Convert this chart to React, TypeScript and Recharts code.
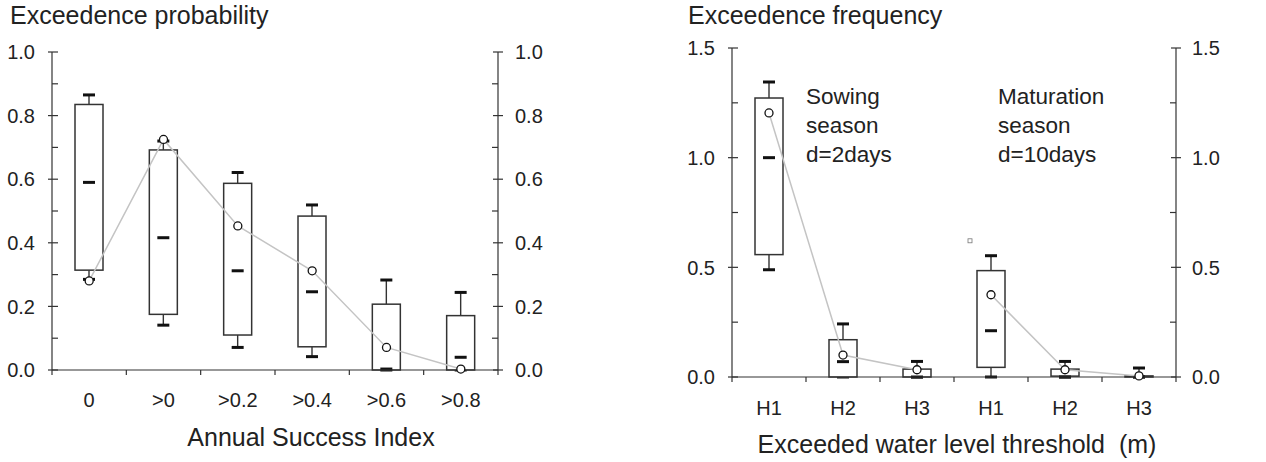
import React from 'react';
import { ComposedChart, Bar, Line, XAxis, YAxis } from 'recharts';

const FONT = '"Liberation Sans", Arial, Helvetica, sans-serif';
const INK = '#222';
const AXIS = '#333';
const MEAN_LINE = '#c4c4c4';

// left panel: exceedence probability by annual success index
const successCats = ['0', '>0', '>0.2', '>0.4', '>0.6', '>0.8'];
const probHi = [0.865, 0.72, 0.621, 0.519, 0.283, 0.244];
const probQ3 = [0.835, 0.692, 0.587, 0.484, 0.207, 0.171];
const probMed = [0.59, 0.416, 0.312, 0.246, 0.003, 0.04];
const probQ1 = [0.314, 0.175, 0.11, 0.073, 0, 0];
const probLo = [0.285, 0.141, 0.071, 0.042, 0, 0];
const probMean = [0.28, 0.725, 0.453, 0.312, 0.071, 0.003];
const probTicks = [0, 0.1, 0.2, 0.3, 0.4, 0.5, 0.6, 0.7, 0.8, 0.9, 1.0];
const probMajor = [0, 0.2, 0.4, 0.6, 0.8, 1.0];

// right panel: exceedence frequency by water level threshold
const thresholdCats = ['H1', 'H2', 'H3', 'H1', 'H2', 'H3'];
const seasonOf = ['sow', 'sow', 'sow', 'mat', 'mat', 'mat'];
const freqHi = [1.345, 0.242, 0.071, 0.553, 0.071, 0.041];
const freqQ3 = [1.272, 0.17, 0.036, 0.485, 0.036, 0.005];
const freqMed = [1.0, 0.07, 0, 0.211, 0, 0];
const freqQ1 = [0.558, 0, 0, 0.044, 0.004, 0];
const freqLo = [0.489, 0, 0, 0, 0, 0];
const freqMean = [1.204, 0.1, 0.033, 0.375, 0.033, 0.005];
const freqOutlier = [null, null, null, 0.621, null, null];
const freqTicks = [0, 0.25, 0.5, 0.75, 1.0, 1.25, 1.5];
const freqMajor = [0, 0.5, 1.0, 1.5];

const leftData = successCats.map((c, i) => ({
  key: c,
  hi: probHi[i],
  q3: probQ3[i],
  med: probMed[i],
  q1: probQ1[i],
  lo: probLo[i],
  mean: probMean[i],
}));

const rightData = thresholdCats.map((c, i) => ({
  key: `${c}-${i}`,
  hi: freqHi[i],
  q3: freqQ3[i],
  med: freqMed[i],
  q1: freqQ1[i],
  lo: freqLo[i],
  outlier: freqOutlier[i],
  meanSow: seasonOf[i] === 'sow' ? freqMean[i] : null,
  meanMat: seasonOf[i] === 'mat' ? freqMean[i] : null,
}));

// bar value is the upper whisker, so the bar's own geometry gives the y scale
const BoxShape = (props: any) => {
  const { x, y, width, height, payload } = props;
  if (!payload || !payload.hi) return null;
  const ppu = height / payload.hi;
  const base = y + height;
  const py = (v: number) => base - v * ppu;
  const cx = x + width / 2;
  const cap = 6;
  return (
    <g>
      <line x1={cx} x2={cx} y1={py(payload.q3)} y2={py(payload.hi)} stroke={AXIS} strokeWidth={1.4} />
      <line x1={cx - cap} x2={cx + cap} y1={py(payload.hi)} y2={py(payload.hi)} stroke="#111" strokeWidth={3} />
      <line x1={cx} x2={cx} y1={py(payload.q1)} y2={py(payload.lo)} stroke={AXIS} strokeWidth={1.4} />
      <line x1={cx - cap} x2={cx + cap} y1={py(payload.lo)} y2={py(payload.lo)} stroke="#111" strokeWidth={3} />
      <rect
        x={x}
        y={py(payload.q3)}
        width={width}
        height={Math.max(py(payload.q1) - py(payload.q3), 0.5)}
        fill="#fff"
        stroke={AXIS}
        strokeWidth={1.5}
      />
      <line x1={cx - cap} x2={cx + cap} y1={py(payload.med)} y2={py(payload.med)} stroke="#111" strokeWidth={3} />
      {payload.outlier != null && (
        <rect x={x - 9} y={py(payload.outlier) - 2} width={4} height={4} fill="#fff" stroke="#777" strokeWidth={0.8} />
      )}
    </g>
  );
};

const makeYTick = (side: 'left' | 'right', gap: number, major: number[]) => (props: any) => {
  const { x, y, payload } = props;
  const v = payload.value;
  const isMajor = major.some((m) => Math.abs(m - v) < 1e-6);
  const inward = side === 'left' ? 1 : -1;
  const out = side === 'left' ? 4 : 5;
  const x1 = isMajor ? x - inward * out : x;
  const x2 = x + inward * (isMajor && side === 'right' ? 5 : 6);
  return (
    <g>
      <line x1={x1} x2={x2} y1={y} y2={y} stroke={AXIS} strokeWidth={1.2} />
      {isMajor && (
        <text
          x={side === 'left' ? x - gap : x + gap}
          y={y}
          dy="0.36em"
          textAnchor={side === 'left' ? 'end' : 'start'}
          fontSize={20}
          fontFamily={FONT}
          fill={INK}
        >
          {v.toFixed(1)}
        </text>
      )}
    </g>
  );
};

const makeXTick = (labels: string[], margin: number) => (props: any) => {
  const { x, y, payload, index, visibleTicksCount, width } = props;
  const half = payload.offset || width / visibleTicksCount / 2;
  const last = index === visibleTicksCount - 1;
  return (
    <g>
      <line x1={x - half} x2={x - half} y1={y} y2={y + 5} stroke={AXIS} strokeWidth={1.2} />
      {last && <line x1={x + half} x2={x + half} y1={y} y2={y + 5} stroke={AXIS} strokeWidth={1.2} />}
      <text x={x} y={y + margin} dy="0.71em" textAnchor="middle" fontSize={20} fontFamily={FONT} fill={INK}>
        {labels[index]}
      </text>
    </g>
  );
};

const meanDot = { r: 4, fill: '#fff', stroke: '#111', strokeWidth: 1.3 };

const axisLine = { stroke: AXIS, strokeWidth: 1.2 };

export default function App() {
  return (
    <div style={{ fontFamily: FONT }}>
      <div style={{ position: 'absolute', left: 0, top: 0 }}>
        <ComposedChart width={620} height={462} data={leftData} margin={{ top: 52, right: 62, bottom: 52, left: 0 }}>
          <XAxis
            dataKey="key"
            height={40}
            interval={0}
            tickSize={0}
            tickMargin={0}
            tickLine={false}
            axisLine={axisLine}
            tick={makeXTick(successCats, 23)}
          />
          <YAxis
            yAxisId="l"
            width={52}
            domain={[0, 1]}
            ticks={probTicks}
            interval={0}
            tickSize={0}
            tickMargin={0}
            tickLine={false}
            axisLine={axisLine}
            tick={makeYTick('left', 17, probMajor)}
          />
          <YAxis
            yAxisId="r"
            orientation="right"
            width={60}
            domain={[0, 1]}
            ticks={probTicks}
            interval={0}
            tickSize={0}
            tickMargin={0}
            tickLine={false}
            axisLine={axisLine}
            tick={makeYTick('right', 17, probMajor)}
          />
          <Bar yAxisId="l" dataKey="hi" barSize={28} shape={BoxShape} isAnimationActive={false} />
          {/* invisible twin so the right axis has a series and draws its ticks */}
          <Line yAxisId="r" dataKey="hi" stroke="none" dot={false} activeDot={false} isAnimationActive={false} />
          <Line
            yAxisId="l"
            type="linear"
            dataKey="mean"
            stroke={MEAN_LINE}
            strokeWidth={1.5}
            dot={meanDot}
            activeDot={false}
            isAnimationActive={false}
          />
        </ComposedChart>
      </div>

      <div style={{ position: 'absolute', left: 620, top: 0 }}>
        <ComposedChart width={646} height={462} data={rightData} margin={{ top: 48, right: 30, bottom: 45, left: 52 }}>
          <XAxis
            dataKey="key"
            height={40}
            interval={0}
            tickSize={0}
            tickMargin={0}
            tickLine={false}
            axisLine={axisLine}
            tick={makeXTick(thresholdCats, 24)}
          />
          <YAxis
            yAxisId="l"
            width={60}
            domain={[0, 1.5]}
            ticks={freqTicks}
            interval={0}
            tickSize={0}
            tickMargin={0}
            tickLine={false}
            axisLine={axisLine}
            tick={makeYTick('left', 17, freqMajor)}
          />
          <YAxis
            yAxisId="r"
            orientation="right"
            width={60}
            domain={[0, 1.5]}
            ticks={freqTicks}
            interval={0}
            tickSize={0}
            tickMargin={0}
            tickLine={false}
            axisLine={axisLine}
            tick={makeYTick('right', 16, freqMajor)}
          />
          <Bar yAxisId="l" dataKey="hi" barSize={28} shape={BoxShape} isAnimationActive={false} />
          <Line yAxisId="r" dataKey="hi" stroke="none" dot={false} activeDot={false} isAnimationActive={false} />
          <Line
            yAxisId="l"
            type="linear"
            dataKey="meanSow"
            stroke={MEAN_LINE}
            strokeWidth={1.5}
            dot={meanDot}
            activeDot={false}
            isAnimationActive={false}
          />
          <Line
            yAxisId="l"
            type="linear"
            dataKey="meanMat"
            stroke={MEAN_LINE}
            strokeWidth={1.5}
            dot={meanDot}
            activeDot={false}
            isAnimationActive={false}
          />
        </ComposedChart>
      </div>

      <svg
        width={1266}
        height={462}
        style={{ position: 'absolute', left: 0, top: 0, pointerEvents: 'none' }}
        fontFamily={FONT}
        fill={INK}
      >
        <text x={10} y={24} fontSize={25}>Exceedence probability</text>
        <text x={688} y={24} fontSize={25}>Exceedence frequency</text>
        <text x={311} y={446} fontSize={25} textAnchor="middle">Annual Success Index</text>
        <text x={957} y={453} fontSize={25} textAnchor="middle" style={{ whiteSpace: 'pre' }}>
          Exceeded water level threshold  (m)
        </text>
        <text x={806} y={104} fontSize={22.5}>Sowing</text>
        <text x={806} y={133} fontSize={22.5}>season</text>
        <text x={806} y={162} fontSize={22.5}>d=2days</text>
        <text x={998} y={104} fontSize={22.5}>Maturation</text>
        <text x={998} y={133} fontSize={22.5}>season</text>
        <text x={998} y={162} fontSize={22.5}>d=10days</text>
      </svg>
    </div>
  );
}
